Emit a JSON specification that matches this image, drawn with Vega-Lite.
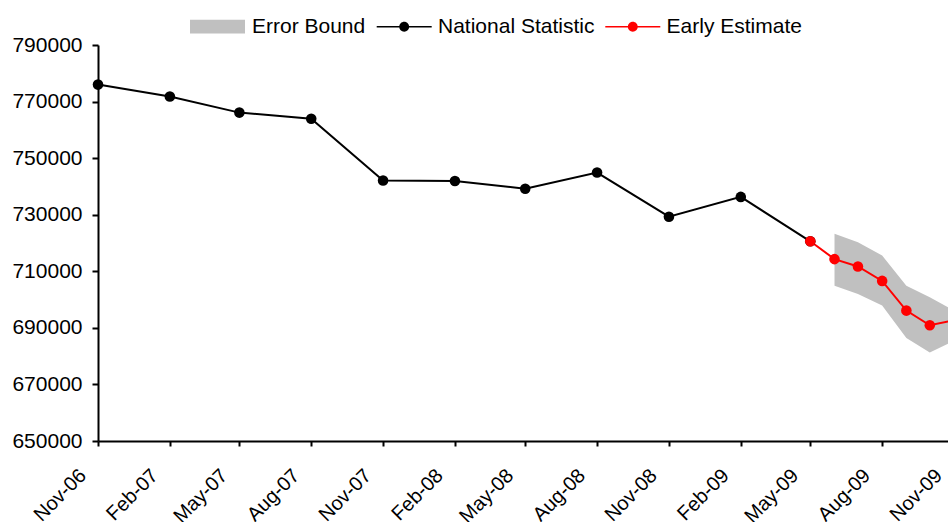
{
  "$schema": "https://vega.github.io/schema/vega-lite/v6.json",
  "width": 856,
  "height": 396,
  "autosize": {"type": "none"},
  "padding": {"left": 98, "top": 45, "right": -6, "bottom": 81},
  "background": "white",
  "config": {"view": {"stroke": null}, "font": "Liberation Sans"},
  "data": {
    "values": [
      {"date": "2006-11-01", "series": "National Statistic", "value": 776000},
      {"date": "2007-02-01", "series": "National Statistic", "value": 771800},
      {"date": "2007-05-01", "series": "National Statistic", "value": 766100},
      {"date": "2007-08-01", "series": "National Statistic", "value": 763900},
      {"date": "2007-11-01", "series": "National Statistic", "value": 742100},
      {"date": "2008-02-01", "series": "National Statistic", "value": 741900},
      {"date": "2008-05-01", "series": "National Statistic", "value": 739200},
      {"date": "2008-08-01", "series": "National Statistic", "value": 744900},
      {"date": "2008-11-01", "series": "National Statistic", "value": 729300},
      {"date": "2009-02-01", "series": "National Statistic", "value": 736300},
      {"date": "2009-05-01", "series": "National Statistic", "value": 720600},
      {"date": "2009-05-01", "series": "Early Estimate", "value": 720600},
      {"date": "2009-06-01", "series": "Early Estimate", "value": 714300},
      {"date": "2009-07-01", "series": "Early Estimate", "value": 711700},
      {"date": "2009-08-01", "series": "Early Estimate", "value": 706600},
      {"date": "2009-09-01", "series": "Early Estimate", "value": 696100},
      {"date": "2009-10-01", "series": "Early Estimate", "value": 690900},
      {"date": "2009-11-01", "series": "Early Estimate", "value": 692700},
      {"date": "2009-06-01", "series": "Error Bound", "lo": 704900, "hi": 723300},
      {"date": "2009-07-01", "series": "Error Bound", "lo": 702000, "hi": 720300},
      {"date": "2009-08-01", "series": "Error Bound", "lo": 697900, "hi": 715600},
      {"date": "2009-09-01", "series": "Error Bound", "lo": 686400, "hi": 704900},
      {"date": "2009-10-01", "series": "Error Bound", "lo": 681300, "hi": 700800},
      {"date": "2009-11-01", "series": "Error Bound", "lo": 685400, "hi": 696100}
    ]
  },
  "encoding": {
    "x": {
      "field": "date",
      "type": "temporal",
      "scale": {
        "type": "utc",
        "domain": [
          {"year": 2006, "month": 11, "date": 1, "utc": true},
          {"year": 2009, "month": 11, "date": 1, "utc": true}
        ],
        "nice": false
      },
      "axis": {
        "values": [
          {"year": 2006, "month": 11, "date": 1, "utc": true},
          {"year": 2007, "month": 2, "date": 1, "utc": true},
          {"year": 2007, "month": 5, "date": 1, "utc": true},
          {"year": 2007, "month": 8, "date": 1, "utc": true},
          {"year": 2007, "month": 11, "date": 1, "utc": true},
          {"year": 2008, "month": 2, "date": 1, "utc": true},
          {"year": 2008, "month": 5, "date": 1, "utc": true},
          {"year": 2008, "month": 8, "date": 1, "utc": true},
          {"year": 2008, "month": 11, "date": 1, "utc": true},
          {"year": 2009, "month": 2, "date": 1, "utc": true},
          {"year": 2009, "month": 5, "date": 1, "utc": true},
          {"year": 2009, "month": 8, "date": 1, "utc": true},
          {"year": 2009, "month": 11, "date": 1, "utc": true}
        ],
        "format": "%b-%y",
        "labelAngle": -45,
        "labelAlign": "right",
        "labelBaseline": "top",
        "labelOffset": -22.5,
        "labelPadding": 19,
        "labelFont": "Liberation Sans",
        "labelFontSize": 20,
        "labelColor": "black",
        "labelOverlap": false,
        "labelFlush": false,
        "labelBound": false,
        "tickSize": 5,
        "tickColor": "black",
        "tickWidth": 2,
        "domainColor": "black",
        "domainWidth": 2,
        "grid": false,
        "title": null
      }
    }
  },
  "layer": [
    {
      "transform": [{"filter": "datum.series === 'Error Bound'"}],
      "mark": {"type": "area", "opacity": 1},
      "encoding": {
        "y": {
          "field": "lo",
          "type": "quantitative",
          "scale": {"domain": [650000, 790000], "nice": false, "zero": false},
          "axis": {
            "values": [650000, 670000, 690000, 710000, 730000, 750000, 770000, 790000],
            "format": "d",
            "tickSize": 6,
            "tickColor": "black",
            "tickWidth": 2,
            "labelPadding": 10,
            "labelFont": "Liberation Sans",
            "labelFontSize": 21,
            "labelColor": "black",
            "domainColor": "black",
            "domainWidth": 2,
            "grid": false,
            "title": null
          }
        },
        "y2": {"field": "hi"},
        "fill": {
          "field": "series",
          "type": "nominal",
          "scale": {"domain": ["Error Bound"], "range": ["#c0c0c0"]},
          "legend": {
            "orient": "none",
            "legendX": 92,
            "legendY": -46,
            "title": null,
            "padding": 0,
            "symbolType": "M-1,-0.25H1V0.25H-1Z",
            "symbolSize": 3025,
            "symbolStrokeWidth": 0,
            "labelOffset": 7,
            "labelLimit": 0,
            "labelFont": "Liberation Sans",
            "labelFontSize": 21,
            "labelColor": "black"
          }
        }
      }
    },
    {
      "transform": [{"filter": "datum.series !== 'Error Bound'"}],
      "mark": {"type": "line", "strokeWidth": 2},
      "encoding": {
        "y": {
          "field": "value",
          "type": "quantitative",
          "scale": {"domain": [650000, 790000], "nice": false, "zero": false}
        },
        "detail": {"field": "series", "type": "nominal"},
        "stroke": {
          "condition": {"test": "datum.series === 'Early Estimate'", "value": "#ff0000"},
          "value": "#000000"
        }
      }
    },
    {
      "transform": [{"filter": "datum.series !== 'Error Bound'"}],
      "mark": {"type": "point", "filled": true, "opacity": 1, "size": 112, "strokeWidth": 0},
      "encoding": {
        "y": {
          "field": "value",
          "type": "quantitative",
          "scale": {"domain": [650000, 790000], "nice": false, "zero": false}
        },
        "color": {
          "field": "series",
          "type": "nominal",
          "scale": {"domain": ["National Statistic", "Early Estimate"], "range": ["#000000", "#ff0000"]},
          "legend": {
            "orient": "none",
            "direction": "horizontal",
            "legendX": 278.7,
            "legendY": -46,
            "title": null,
            "padding": 0,
            "symbolType": "M-1,-0.03H1V0.03H-1Z M-0.18,0A0.18,0.18 0 1,1 0.18,0A0.18,0.18 0 1,1 -0.18,0Z",
            "symbolSize": 3025,
            "symbolStrokeWidth": 0,
            "labelOffset": 6.3,
            "columnPadding": 10.6,
            "labelLimit": 0,
            "labelFont": "Liberation Sans",
            "labelFontSize": 21,
            "labelColor": "black"
          }
        }
      }
    }
  ]
}
